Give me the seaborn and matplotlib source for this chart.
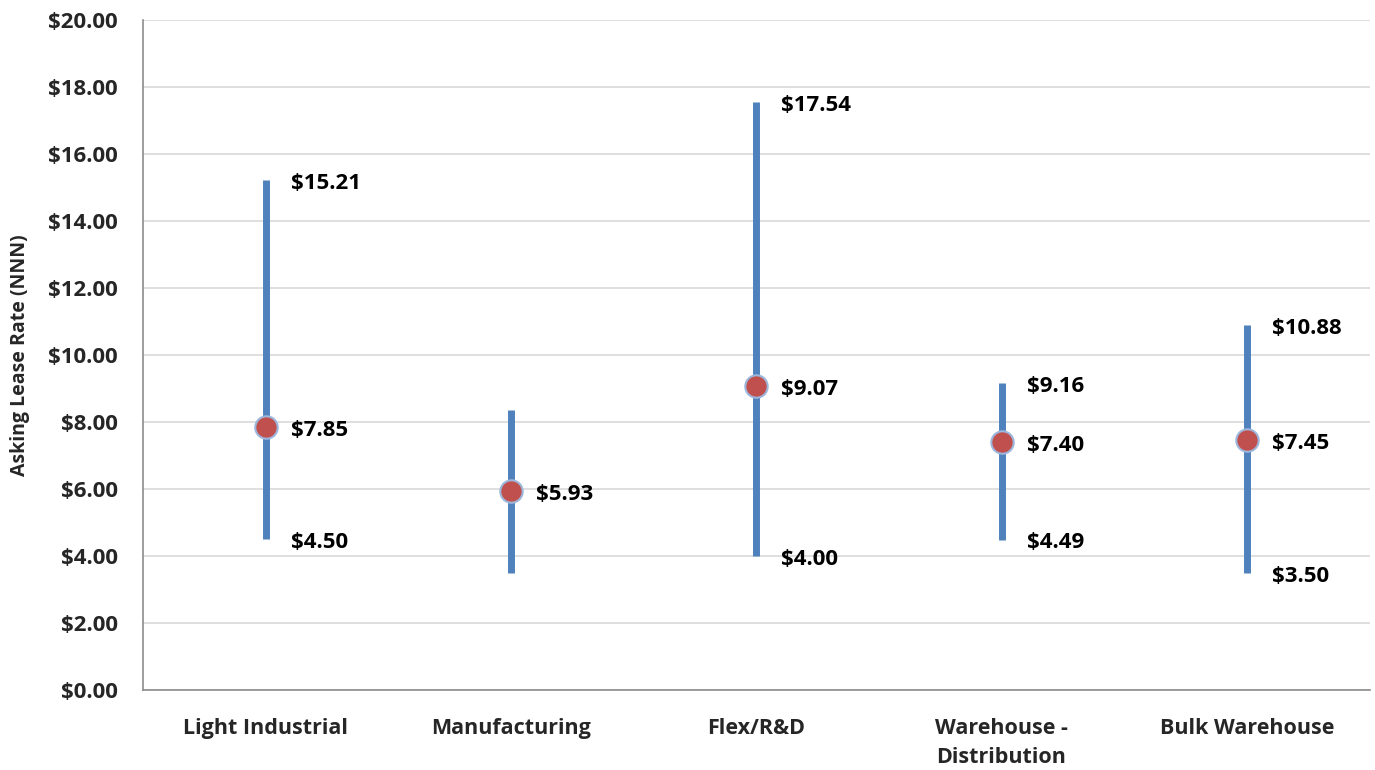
import matplotlib
matplotlib.use("Agg")
import matplotlib.pyplot as plt
import seaborn as sns
import pandas as pd

categories = ["Light Industrial", "Manufacturing", "Flex/R&D", "Warehouse -\nDistribution", "Bulk Warehouse"]
low_rates = [4.50, 3.50, 4.00, 4.49, 3.50]
avg_rates = [7.85, 5.93, 9.07, 7.40, 7.45]
high_rates = [15.21, 8.35, 17.54, 9.16, 10.88]
show_range_labels = [True, False, True, True, True]
y_ticks = [0, 2, 4, 6, 8, 10, 12, 14, 16, 18, 20]

sns.set_theme(style="white")
plt.rcParams["font.family"] = ["Open Sans", "DejaVu Sans"]

df = pd.DataFrame({"category": categories, "low": low_rates,
                   "avg": avg_rates, "high": high_rates})
df["pos"] = range(len(df))

fig = plt.figure(figsize=(13.75, 7.7), dpi=100)
ax = fig.add_axes([0.104, 0.104, 0.892, 0.870])

blue = "#4F81BD"
red = "#C0504D"

ax.vlines(df["pos"], df["low"], df["high"], color=blue, linewidth=5, zorder=2)
sns.scatterplot(data=df, x="pos", y="avg", ax=ax, s=260, color=red,
                edgecolor="#9DB7DC", linewidth=1.5, zorder=3, legend=False)

label_kw = dict(fontsize=16, fontweight="bold", va="center", ha="left", color="black",
                textcoords="offset points")


def value_label(x, y):
    ax.annotate(f"${y:.2f}", xy=(x, y), xytext=(18, -2.5), **label_kw)


for i, row in df.iterrows():
    value_label(row["pos"], row["avg"])
    if show_range_labels[i]:
        value_label(row["pos"], row["high"])
        value_label(row["pos"], row["low"])

ax.set_xlim(-0.5, len(categories) - 0.5)
ax.set_ylim(0, 20)
ax.set_yticks(y_ticks)
ax.set_yticklabels([f"${v:.2f}" for v in y_ticks], fontsize=16, fontweight="bold")
ax.set_xticks(df["pos"])
ax.set_xticklabels(categories, fontsize=15.5, fontweight="bold", linespacing=1.5)
ax.tick_params(axis="x", length=0, pad=20)
ax.tick_params(axis="y", length=0, pad=18)
ax.set_xlabel("")
ax.set_ylabel("Asking Lease Rate (NNN)", fontsize=14, fontweight="bold", labelpad=13)

ax.yaxis.grid(True, color="#D9D9D9", linewidth=1.2)
ax.set_axisbelow(True)
for side in ["top", "right"]:
    ax.spines[side].set_visible(False)
for side in ["left", "bottom"]:
    ax.spines[side].set_color("#8C8C8C")
    ax.spines[side].set_linewidth(1.2)

fig.savefig("out.png", dpi=100)
